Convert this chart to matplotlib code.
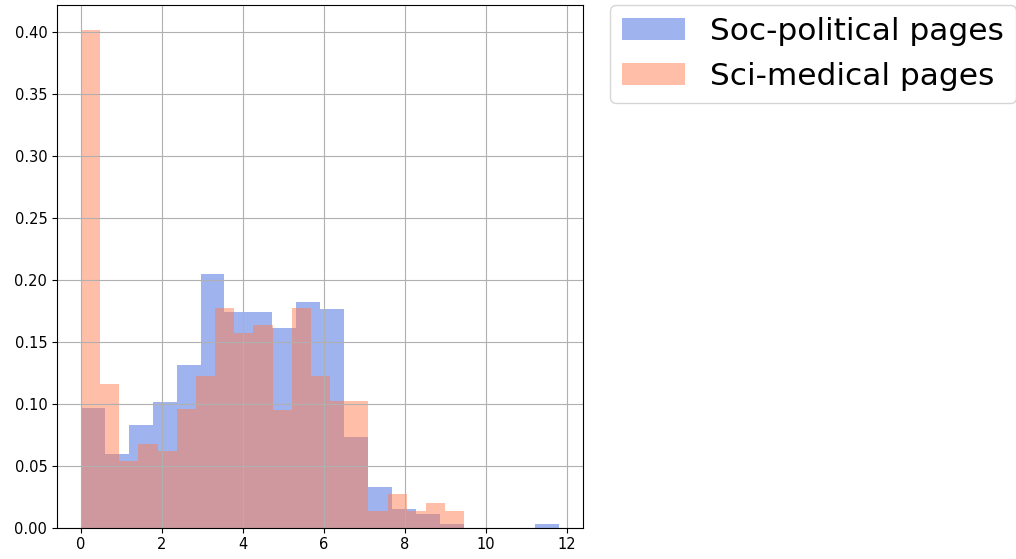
import numpy as np
import matplotlib
matplotlib.use('Agg')
import matplotlib.pyplot as plt

# densities per bin (20 bins each)
soc_max = 11.82
sci_max = 9.47
soc_density = [0.0964, 0.0592, 0.0829, 0.1017, 0.1312, 0.2046, 0.1742, 0.1742, 0.1608, 0.1824,
               0.1763, 0.0733, 0.0330, 0.0148, 0.0110, 0.0030, 0.0, 0.0, 0.0, 0.0029]
sci_density = [0.4021, 0.1159, 0.0540, 0.0675, 0.0618, 0.0955, 0.1226, 0.1775, 0.1568, 0.1635,
               0.0951, 0.1775, 0.1224, 0.1025, 0.1025, 0.0137, 0.0271, 0.0137, 0.0201, 0.0137]

soc_bins = np.linspace(0, soc_max, len(soc_density) + 1)
sci_bins = np.linspace(0, sci_max, len(sci_density) + 1)

fig, ax = plt.subplots(figsize=(10.16, 5.59), dpi=100)
fig.subplots_adjust(left=0.0561, right=0.5741, bottom=0.0562, top=0.9916)

ax.hist((soc_bins[:-1] + soc_bins[1:]) / 2, bins=soc_bins, weights=soc_density,
        color='royalblue', alpha=0.5, label='Soc-political pages')
ax.hist((sci_bins[:-1] + sci_bins[1:]) / 2, bins=sci_bins, weights=sci_density,
        color='coral', alpha=0.5, label='Sci-medical pages')
ax.grid(True)
ax.tick_params(labelsize=10.5)
ax.legend(bbox_to_anchor=(1.05, 1), loc='upper left', borderaxespad=0, fontsize=22.5)

fig.savefig('out.png')
